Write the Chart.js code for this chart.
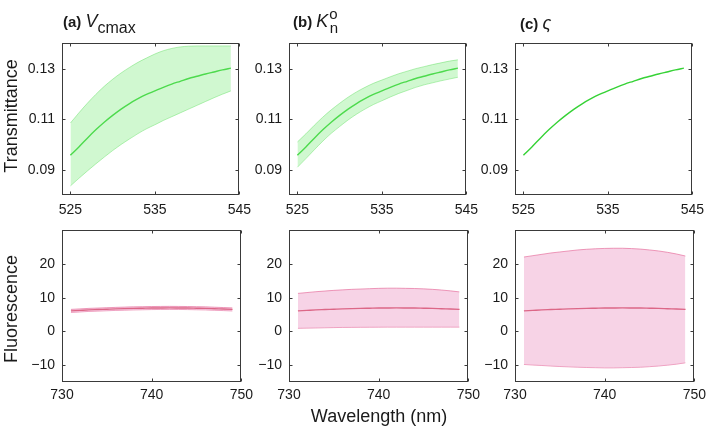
<!DOCTYPE html>
<html>
<head>
<meta charset="utf-8">
<script src="https://cdn.jsdelivr.net/npm/chart.js@4.4.1/dist/chart.umd.min.js"></script>
<style>
    html, body { margin: 0; padding: 0; background: #fff; }
    #fig { position: relative; width: 709px; height: 428px; overflow: hidden; font-family: 'Liberation Sans', Arial, sans-serif; color: #1a1a1a; }
    #fig canvas { position: absolute; }
    .txt { position: absolute; white-space: nowrap; line-height: 1; }
    .title { font-size: 15px; }
    .title b { font-weight: bold; }
    .title i { font-size: 18px; }
    .ylab { font-size: 18px; transform: translate(-50%, -50%) rotate(-90deg); }
</style>
</head>
<body>
<div id="fig">
    <canvas id="tA" width="256" height="197"></canvas>
    <canvas id="tB" width="256" height="197"></canvas>
    <canvas id="tC" width="256" height="197"></canvas>
    <canvas id="fA" width="256" height="197"></canvas>
    <canvas id="fB" width="256" height="197"></canvas>
    <canvas id="fC" width="256" height="197"></canvas>

    <div class="txt title" style="left:63px; top:12px;"><b>(a)</b>&nbsp;<i>V</i><span style="font-size:16px; position:relative; top:6px;">cmax</span></div>
    <div class="txt title" style="left:293px; top:12px;"><b>(b)</b>&nbsp;<i>K</i><span style="font-size:15px; position:relative; top:-8px; margin-left:1px;">o</span><span style="font-size:15px; position:relative; top:6px; margin-left:-8px;">n</span></div>
    <div class="txt title" style="left:520px; top:14px;"><b>(c)</b>&nbsp;<i>ς</i></div>

    <div class="txt ylab" style="left:11px; top:116px;">Transmittance</div>
    <div class="txt ylab" style="left:11px; top:309px;">Fluorescence</div>
    <div class="txt" style="left:379px; top:407px; font-size:18px; transform:translateX(-50%);">Wavelength (nm)</div>
</div>

<script>
// transmittance, top row
const wlTrans = [525, 526, 527, 528, 529, 530, 531, 532, 533, 534, 535, 536, 537, 538, 539, 540, 541, 542, 543, 544];
const transMean = [0.0957, 0.0990, 0.1025, 0.1058, 0.1088, 0.1115, 0.1140, 0.1162, 0.1181, 0.1198, 0.1212, 0.1226, 0.1239, 0.1250, 0.1261, 0.1270, 0.1279, 0.1287, 0.1295, 0.1302];
const transUpperA = [0.1085, 0.1125, 0.1163, 0.1198, 0.1230, 0.1258, 0.1283, 0.1305, 0.1325, 0.1342, 0.1358, 0.1371, 0.1380, 0.1386, 0.1389, 0.1390, 0.1390, 0.1390, 0.1390, 0.1390];
const transLowerA = [0.0836, 0.0866, 0.0895, 0.0923, 0.0950, 0.0976, 0.1000, 0.1022, 0.1043, 0.1062, 0.1078, 0.1095, 0.1110, 0.1125, 0.1140, 0.1155, 0.1170, 0.1185, 0.1199, 0.1212];
const transUpperB = [0.1010, 0.1042, 0.1076, 0.1108, 0.1137, 0.1163, 0.1187, 0.1208, 0.1226, 0.1242, 0.1255, 0.1268, 0.1280, 0.1290, 0.1300, 0.1308, 0.1316, 0.1323, 0.1330, 0.1335];
const transLowerB = [0.0910, 0.0944, 0.0979, 0.1013, 0.1044, 0.1071, 0.1097, 0.1120, 0.1140, 0.1158, 0.1173, 0.1188, 0.1202, 0.1214, 0.1226, 0.1236, 0.1244, 0.1252, 0.1259, 0.1266];
const transTicks = [0.09, 0.11, 0.13];
const transTickLabels = ['0.09', '0.11', '0.13'];
const wlTransTicks = [525, 535, 545];

// fluorescence, bottom row
const wlFluor = [731, 732, 733, 734, 735, 736, 737, 738, 739, 740, 741, 742, 743, 744, 745, 746, 747, 748, 749];
const fluorMean = [6.1, 6.25, 6.4, 6.5, 6.6, 6.7, 6.78, 6.85, 6.9, 6.95, 6.98, 7.0, 6.98, 6.95, 6.9, 6.85, 6.75, 6.65, 6.55];
const fluorUpperA = [6.55, 6.7, 6.85, 6.95, 7.05, 7.15, 7.23, 7.3, 7.35, 7.4, 7.43, 7.45, 7.43, 7.4, 7.35, 7.3, 7.2, 7.1, 7.0];
const fluorLowerA = [5.65, 5.8, 5.95, 6.05, 6.15, 6.25, 6.33, 6.4, 6.45, 6.5, 6.53, 6.55, 6.53, 6.5, 6.45, 6.4, 6.3, 6.2, 6.1];
const fluorUpperB = [11.3, 11.55, 11.8, 12.0, 12.2, 12.35, 12.5, 12.6, 12.7, 12.8, 12.85, 12.85, 12.8, 12.75, 12.65, 12.5, 12.3, 12.05, 11.75];
const fluorLowerB = [0.95, 1.0, 1.05, 1.1, 1.15, 1.2, 1.22, 1.25, 1.27, 1.28, 1.3, 1.3, 1.3, 1.3, 1.3, 1.3, 1.3, 1.3, 1.3];
const fluorUpperC = [22.1, 22.5, 22.9, 23.3, 23.6, 23.9, 24.2, 24.4, 24.55, 24.65, 24.7, 24.7, 24.6, 24.45, 24.2, 23.9, 23.5, 23.0, 22.4];
const fluorLowerC = [-9.8, -9.95, -10.1, -10.25, -10.4, -10.5, -10.6, -10.7, -10.75, -10.8, -10.8, -10.75, -10.7, -10.6, -10.45, -10.25, -10.0, -9.7, -9.3];
const fluorTicks = [-10, 0, 10, 20];
const fluorTickLabels = ['\u221210', '0', '10', '20'];
const wlFluorTicks = [730, 740, 750];

const FONT = "'Liberation Sans', Arial, sans-serif";
const plotLeft = [62, 289, 515];
const plotTop = [38, 225];

// box around the plot area with small inward ticks on all four sides
const boxTicks = {
    id: 'boxTicks',
    afterDraw(chart) {
        const { ctx, chartArea: a, scales } = chart;
        const L = Math.round(a.left) + 0.5, R = Math.round(a.right) - 0.5;
        const T = Math.round(a.top) + 0.5, B = Math.round(a.bottom) - 0.5;
        ctx.save();
        ctx.strokeStyle = '#3a3a3a';
        ctx.lineWidth = 1;
        ctx.beginPath();
        scales.x.ticks.forEach((t) => {
            const px = Math.round(scales.x.getPixelForValue(t.value)) + 0.5;
            ctx.moveTo(px, B); ctx.lineTo(px, B - 3);
            ctx.moveTo(px, T); ctx.lineTo(px, T + 3);
        });
        scales.y.ticks.forEach((t) => {
            const py = Math.round(scales.y.getPixelForValue(t.value)) + 0.5;
            ctx.moveTo(L, py); ctx.lineTo(L + 3, py);
            ctx.moveTo(R, py); ctx.lineTo(R - 3, py);
        });
        ctx.stroke();
        ctx.strokeRect(L, T, R - L, B - T);
        ctx.restore();
    },
};

function pts(xs, ys) {
    return xs.map((x, i) => ({ x: x, y: ys[i] }));
}

function makePanel(id, col, row, p) {
    const el = document.getElementById(id);
    el.style.left = plotLeft[col] - 60 + 'px';
    el.style.top = plotTop[row] - 10 + 'px';

    const datasets = [];
    if (p.upper) {
        datasets.push({
            data: pts(p.xs, p.upper),
            borderColor: p.edge,
            borderWidth: 0.8,
            backgroundColor: p.fill,
            fill: '+1',
        });
        datasets.push({
            data: pts(p.xs, p.lower),
            borderColor: p.edge,
            borderWidth: 0.8,
            fill: false,
        });
    }
    datasets.push({
        data: pts(p.xs, p.mean),
        borderColor: p.line,
        borderWidth: 1.4,
        fill: false,
    });

    new Chart(el, {
        type: 'line',
        data: { datasets: datasets },
        plugins: [boxTicks],
        options: {
            responsive: false,
            animation: false,
            devicePixelRatio: 1,
            layout: { padding: { top: 10, right: 16, left: 0, bottom: 0 } },
            elements: {
                point: { radius: 0 },
                line: { cubicInterpolationMode: 'monotone' },
            },
            plugins: { legend: { display: false }, tooltip: { enabled: false } },
            scales: {
                x: {
                    type: 'linear',
                    min: p.xmin,
                    max: p.xmax,
                    grid: { display: false, drawTicks: false },
                    border: { display: false },
                    afterBuildTicks: (s) => { s.ticks = p.xticks.map((v) => ({ value: v })); },
                    afterFit: (s) => { s.height = 30; },
                    ticks: {
                        padding: p.xpad,
                        maxRotation: 0,
                        color: '#1a1a1a',
                        font: { family: FONT, size: 14 },
                        callback: (v) => String(v),
                    },
                },
                y: {
                    min: p.ymin,
                    max: p.ymax,
                    grid: { display: false, drawTicks: false },
                    border: { display: false },
                    afterBuildTicks: (s) => { s.ticks = p.yticks.map((v) => ({ value: v })); },
                    afterFit: (s) => { s.width = 60; },
                    ticks: {
                        padding: 7,
                        color: '#1a1a1a',
                        font: { family: FONT, size: 14 },
                        callback: (v) => p.ylabels[p.yticks.indexOf(v)],
                    },
                },
            },
        },
    });
}

const green = { line: '#36d236', edge: 'rgba(90,220,90,0.55)', fill: 'rgba(120,235,120,0.35)' };
const pink = { line: '#c4102e', edge: 'rgba(228,100,150,0.8)', fill: 'rgba(240,175,210,0.55)' };

const transBase = {
    xs: wlTrans, mean: transMean, xmin: 524, xmax: 545, xticks: wlTransTicks,
    ymin: 0.08, ymax: 0.14, yticks: transTicks, ylabels: transTickLabels, xpad: 7,
};
const fluorBase = {
    xs: wlFluor, mean: fluorMean, xmin: 730, xmax: 750, xticks: wlFluorTicks,
    ymin: -15, ymax: 30, yticks: fluorTicks, ylabels: fluorTickLabels, xpad: 5,
};

makePanel('tA', 0, 0, { ...transBase, ...green, upper: transUpperA, lower: transLowerA });
makePanel('tB', 1, 0, { ...transBase, ...green, upper: transUpperB, lower: transLowerB });
makePanel('tC', 2, 0, { ...transBase, ...green });
makePanel('fA', 0, 1, { ...fluorBase, ...pink, upper: fluorUpperA, lower: fluorLowerA });
makePanel('fB', 1, 1, { ...fluorBase, ...pink, upper: fluorUpperB, lower: fluorLowerB });
makePanel('fC', 2, 1, { ...fluorBase, ...pink, upper: fluorUpperC, lower: fluorLowerC });
</script>
</body>
</html>
